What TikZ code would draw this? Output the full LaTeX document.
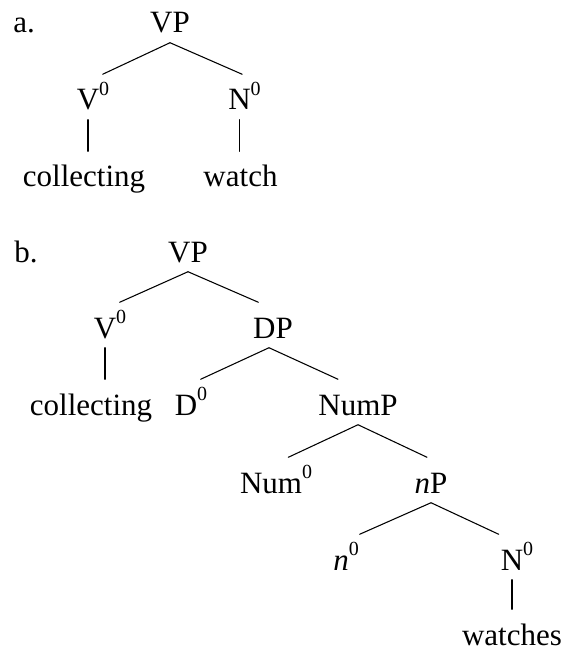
\documentclass[tikz,border=0pt]{standalone}
\usepackage{fontspec}
\setmainfont{Liberation Serif}
\usepackage{tikz}
\usetikzlibrary{calc}
\newcommand{\zsup}{\rlap{\raisebox{0.47em}{\fontsize{15pt}{16pt}\selectfont 0}}}
\tikzset{
every picture/.style={line cap=round,line join=round},
tree label/.style={
  font=\fontsize{23.25pt}{28pt}\selectfont,
  inner xsep=0pt,
  inner ysep=7.1pt,
  text height=19.5pt,
  text depth=0pt,
  anchor=base
},
item label/.style={tree label, anchor=base west},
tree edge/.style={draw=black, line width=0.8pt}
}

\begin{document}
\begin{tikzpicture}[x=0.75pt,y=-0.75pt]
\useasboundingbox (0,0) rectangle (566,652);
% a. simple VP
\node[item label] (alab) at (13,33) {a.};
\node[tree label] (VPa) at (170,33) {VP};
\node[tree label] (Va) at (88,110) {V\zsup};
\node[tree label] (Na) at (239.5,110) {N\zsup};
\node[tree label] (colla) at (84,187) {collecting};
\node[tree label] (watch) at (240.5,187) {watch};
\draw[tree edge] (VPa.south) -- ([xshift=11pt]Va.north);
\draw[tree edge] (VPa.south) -- ([xshift=2pt]Na.north);
% b. full DP
\node[item label] (blab) at (14,262) {b.};
\node[tree label] (VPb) at (188,262) {VP};
\node[tree label] (Vb) at (105,338) {V\zsup};
\node[tree label] (DP) at (273,338) {DP};
\node[tree label] (collb) at (91,415) {collecting};
\node[tree label] (D) at (186,415) {D\zsup};
\node[tree label] (NumP) at (358,415) {NumP};
\node[tree label] (Num) at (271,493) {Num\zsup};
\node[tree label] (nP) at (431,493) {\textit{n}P};
\node[tree label] (n) at (341,570) {\textit{n}\zsup};
\node[tree label] (Nb) at (512,570) {N\zsup};
\node[tree label] (watches) at (512,645) {watches};
\draw[tree edge] (VPb.south) -- ([xshift=11pt]Vb.north);
\draw[tree edge] (VPb.south) -- ([xshift=-11pt]DP.north);
\draw[tree edge] ([xshift=-3pt]DP.south) -- ([xshift=11pt]D.north);
\draw[tree edge] ([xshift=-3pt]DP.south) -- ([xshift=-15pt]NumP.north);
\draw[tree edge] (NumP.south) -- ([xshift=13pt]Num.north);
\draw[tree edge] (NumP.south) -- ([xshift=-3pt]nP.north);
\draw[tree edge] (nP.south) -- ([xshift=14pt]n.north);
\draw[tree edge] (nP.south) -- ([xshift=-10pt]Nb.north);
% unary branches
\foreach \p/\c in {Va/colla,Na/watch,Vb/collb,Nb/watches} {
\draw[tree edge] (\p.south) -- (\p.south |- \c.north);
}
\end{tikzpicture}
\end{document}
